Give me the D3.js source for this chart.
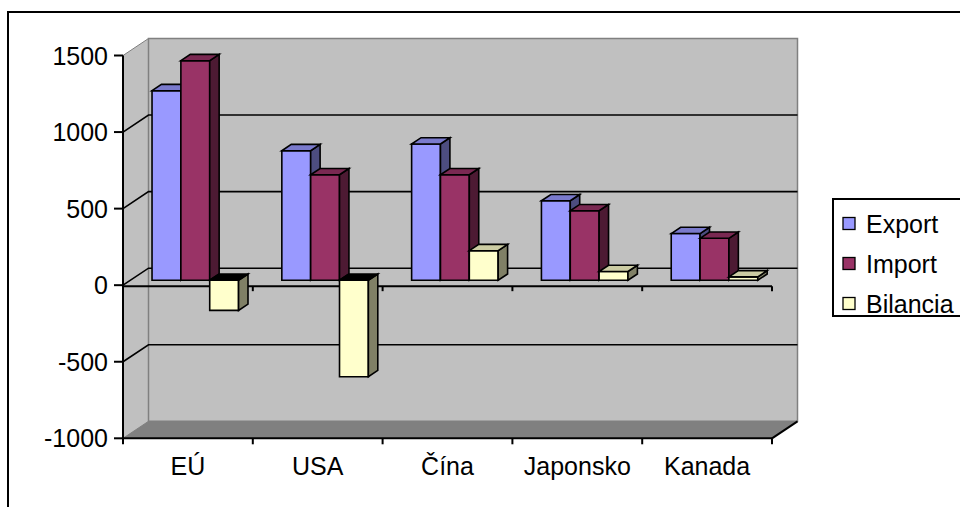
<!DOCTYPE html>
<html>
<head>
<meta charset="utf-8">
<script src="https://cdn.jsdelivr.net/npm/d3@7"></script>
<style>
  html, body { margin: 0; padding: 0; background: #fff; }
  svg { display: block; }
  text { font-family: Arial, "Liberation Sans", sans-serif; fill: #000; }
</style>
</head>
<body>
<svg id="chart" width="960" height="507"></svg>
<script>
// Trade figures by partner
const categories = ["EÚ", "USA", "Čína", "Japonsko", "Kanada"];
const exportValues = [1238, 846, 890, 519, 305];
const importValues = [1434, 689, 689, 454, 274];
const bilanciaValues = [-197, -630, 193, 57, 22];
const seriesNames = ["Export", "Import", "Bilancia"];
const valueTicks = [1500, 1000, 500, 0, -500, -1000];

const series = [
  { name: seriesNames[0], values: exportValues,  front: "#9999FF", top: "#7A7ACC", side: "#4D4D80" },
  { name: seriesNames[1], values: importValues,  front: "#993366", top: "#7A2952", side: "#4D1A33" },
  { name: seriesNames[2], values: bilanciaValues, front: "#FFFFCC", top: "#CCCCA3", side: "#808066" }
];

const svg = d3.select("#chart");

// Front plane of the 3-D plot box and the depth vector
const left = 123, right = 772;
const depth = { x: 25.5, y: -17 };
const barD0 = 0.29, barD1 = 0.66;   // bar front/back positions within the depth

const x = d3.scaleBand().domain(categories).range([left, right]).padding(0);
const y = d3.scaleLinear().domain([-1000, 1500]).range([438.3, 55.5]);
const yMin = y(-1000), yMax = y(1500);

const P = (px, py, d) => [px + depth.x * d, py + depth.y * d];
const poly = pts => "M" + pts.map(p => p.join(",")).join("L") + "Z";

// Outer frame
svg.append("rect").attr("x", 8).attr("y", 12).attr("width", 1000).attr("height", 600)
  .attr("fill", "#fff").attr("stroke", "#000").attr("stroke-width", 2);

// Floor
svg.append("path")
  .attr("d", poly([P(left, yMin, 0), P(right, yMin, 0), P(right, yMin, 1), P(left, yMin, 1)]))
  .attr("fill", "#808080").attr("stroke", "#808080").attr("stroke-width", 1);

// Side wall
svg.append("path")
  .attr("d", poly([P(left, yMax, 0), P(left, yMax, 1), P(left, yMin, 1), P(left, yMin, 0)]))
  .attr("fill", "#C0C0C0").attr("stroke", "#808080").attr("stroke-width", 1);

// Back wall
svg.append("path")
  .attr("d", poly([P(left, yMax, 1), P(right, yMax, 1), P(right, yMin, 1), P(left, yMin, 1)]))
  .attr("fill", "#C0C0C0").attr("stroke", "#808080").attr("stroke-width", 1.5);

// Gridlines on side and back walls
const inner = valueTicks.filter(v => v > -1000 && v < 1500);
const grid = svg.append("g").attr("stroke", "#000").attr("stroke-width", 1.6).attr("fill", "none");
inner.forEach(v => {
  grid.append("path").attr("d", "M" + [P(left, y(v), 0), P(left, y(v), 1), P(right, y(v), 1)].map(p => p.join(",")).join("L"));
});

// Category axis crossing at zero (front plane)
const zeroAxis = svg.append("g").attr("stroke", "#000").attr("stroke-width", 2);
zeroAxis.append("line").attr("x1", left).attr("x2", right).attr("y1", y(0) + 1).attr("y2", y(0) + 1);
d3.range(categories.length + 1).forEach(i => {
  const bx = left + i * x.bandwidth();
  if (i > 0) zeroAxis.append("line").attr("x1", bx).attr("x2", bx).attr("y1", y(0) + 1).attr("y2", y(0) + 6);
});

// Bars
const bw = x.bandwidth() / (series.length + 1.5);
const gapHalf = bw * 0.75;
const bars = svg.append("g").attr("stroke", "#000").attr("stroke-width", 1.6).attr("stroke-linejoin", "miter");
const dbx = depth.x * (barD1 - barD0), dby = depth.y * (barD1 - barD0);
categories.forEach((c, ci) => {
  series.forEach((s, si) => {
    const v = s.values[ci];
    const x0 = x(c) + gapHalf + si * bw + depth.x * barD0;
    const x1 = x0 + bw;
    const yv = y(v) + depth.y * barD0;
    const yb = y(0) + depth.y * barD0;
    const yTop = Math.min(yv, yb), yBot = Math.max(yv, yb);
    // front face
    bars.append("path").attr("d", poly([[x0, yTop], [x1, yTop], [x1, yBot], [x0, yBot]])).attr("fill", s.front);
    // right side face
    bars.append("path").attr("d", poly([[x1, yTop], [x1 + dbx, yTop + dby], [x1 + dbx, yBot + dby], [x1, yBot]])).attr("fill", s.side);
    // top face
    bars.append("path").attr("d", poly([[x0, yTop], [x0 + dbx, yTop + dby], [x1 + dbx, yTop + dby], [x1, yTop]]))
      .attr("fill", v < 0 ? "#000" : s.top);
  });
});

// Value axis
const vAxis = svg.append("g").attr("stroke", "#000").attr("stroke-width", 2);
vAxis.append("line").attr("x1", left).attr("x2", left).attr("y1", yMax).attr("y2", yMin);
valueTicks.forEach(v => {
  vAxis.append("line").attr("x1", left - 9).attr("x2", left).attr("y1", y(v)).attr("y2", y(v));
});
svg.append("g").selectAll("text").data(valueTicks).join("text")
  .attr("x", 108).attr("y", d => y(d)).attr("dy", "0.36em")
  .attr("text-anchor", "end").attr("font-size", 25)
  .text(d => d);

// Floor-front category axis
const cAxis = svg.append("g").attr("stroke", "#000").attr("stroke-width", 2).attr("fill", "none");
cAxis.append("line").attr("x1", left).attr("x2", right).attr("y1", yMin).attr("y2", yMin);
cAxis.append("path").attr("d", "M" + [P(right, yMin, 0), P(right, yMin, 1)].map(p => p.join(",")).join("L"));
d3.range(categories.length + 1).forEach(i => {
  const bx = left + i * x.bandwidth();
  cAxis.append("line").attr("x1", bx).attr("x2", bx).attr("y1", yMin).attr("y2", yMin + 6);
});
svg.append("g").selectAll("text").data(categories).join("text")
  .attr("x", d => x(d) + x.bandwidth() / 2).attr("y", 475)
  .attr("text-anchor", "middle").attr("font-size", 25)
  .text(d => d);

// Legend
const legend = svg.append("g");
legend.append("rect").attr("x", 833).attr("y", 199).attr("width", 150).attr("height", 117)
  .attr("fill", "#fff").attr("stroke", "#000").attr("stroke-width", 2);
series.forEach((s, i) => {
  const cy = 223.5 + i * 40;
  legend.append("rect").attr("x", 843).attr("y", cy - 6).attr("width", 12).attr("height", 12)
    .attr("fill", s.front).attr("stroke", "#000").attr("stroke-width", 1.3);
  legend.append("text").attr("x", 866).attr("y", cy + 9).attr("font-size", 25).text(s.name);
});
</script>
</body>
</html>
